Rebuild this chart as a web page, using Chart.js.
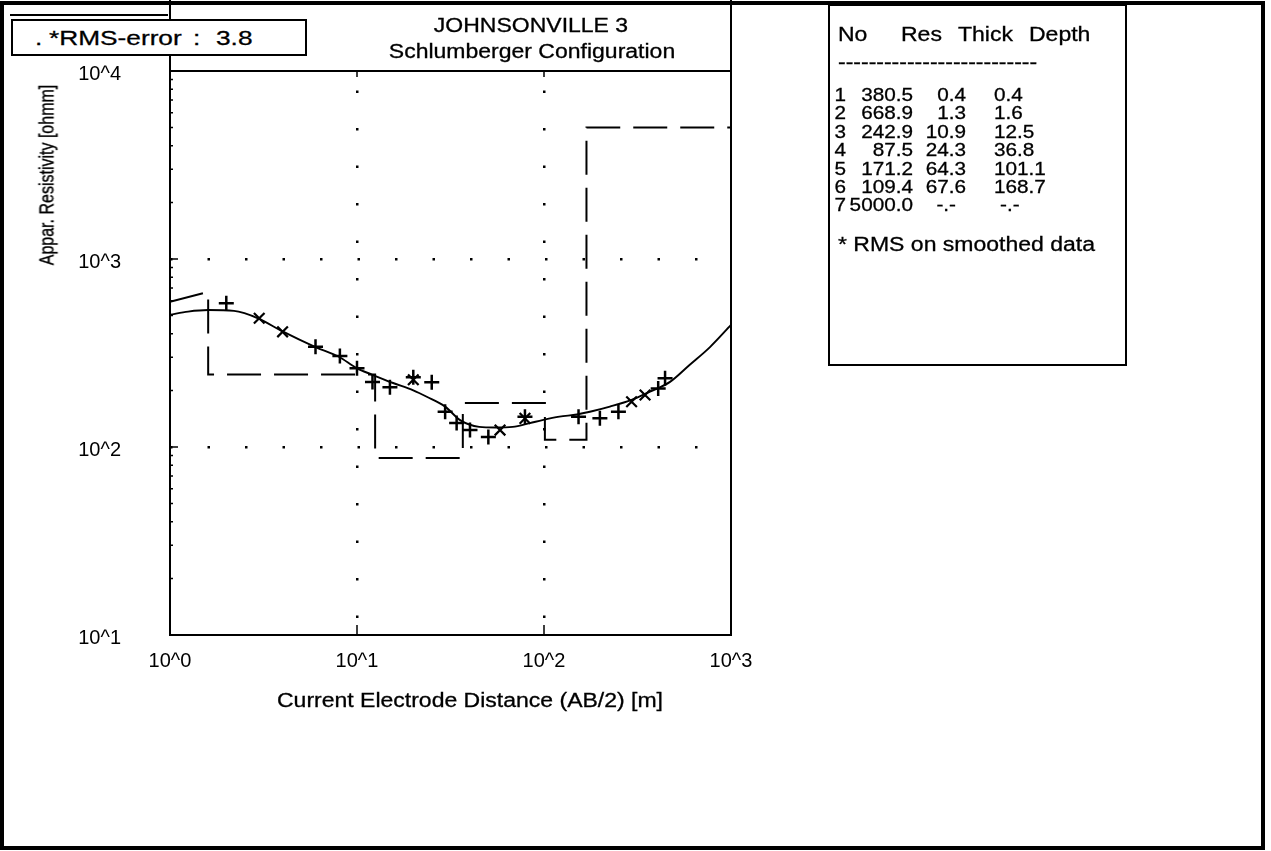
<!DOCTYPE html>
<html lang="en">
<head>
<meta charset="utf-8">
<title>JOHNSONVILLE 3</title>
<script src="https://cdn.jsdelivr.net/npm/chart.js@4.4.1/dist/chart.umd.min.js"></script>
<style>
  html, body { margin: 0; padding: 0; background: #fff; }
  body {
    position: relative; width: 1271px; height: 851px; overflow: hidden;
    font-family: "Liberation Sans", Arial, sans-serif; color: #000;
  }
  #chartBox { position: absolute; left: 0; top: 0; width: 1271px; height: 851px; }
  .box { position: absolute; box-sizing: border-box; border: 2px solid #000; }
  .txt { position: absolute; white-space: pre; line-height: 1; -webkit-text-stroke: 0.3px #000; }
</style>
</head>
<body>
<div id="chartBox"><canvas id="chart"></canvas></div>

<div class="box" style="left:0; top:1px; width:1265px; height:849px; border-width:4px;"></div>
<div class="box" style="left:169px; top:0; width:563px; height:72px; border-top:none; border-bottom:none;"></div>
<div class="box" style="left:10px; top:14px; width:158px; height:0; border-width:2px 0 0 0;"></div>
<div class="box" style="left:11px; top:19px; width:296px; height:37px; background:#fff;"></div>
<div class="box" style="left:828px; top:4px; width:299px; height:362px;"></div>
<div id="texts"></div>

<script>
// axis decades and their labels
const xDecades = [1, 10, 100, 1000];
const xTickLabels = ["10^0", "10^1", "10^2", "10^3"];
const yDecades = [10, 100, 1000, 10000];
const yTickLabels = ["10^1", "10^2", "10^3", "10^4"];

// layer model (table on the right)
const layerNo = [1, 2, 3, 4, 5, 6, 7];
const layerRes = [380.5, 668.9, 242.9, 87.5, 171.2, 109.4, 5000.0];
const layerThick = [0.4, 1.3, 10.9, 24.3, 64.3, 67.6, null];
const layerDepth = [0.4, 1.6, 12.5, 36.8, 101.1, 168.7, null];
const modelEntryRho = 593; // where the dashed model enters the plot at AB/2 = 1

// field readings (+)
const fieldAB = [2.0, 6.0, 8.1, 10, 12.1, 15, 20, 25.1, 29.6, 34.1, 40.2, 50.4, 79.1, 153, 199, 250, 408, 444];
const fieldRho = [581, 341, 305, 262, 222, 208, 235, 221, 154, 134, 123, 113, 145, 145, 142, 154, 205, 232];

// smoothed readings (x)
const smoothAB = [3.0, 4.0, 20, 58.2, 79.1, 294, 347];
const smoothRho = [484, 410, 228, 123, 142, 174, 189];

// calculated sounding curve
const curveAB = [1, 1.25, 1.6, 2.2, 2.5, 3, 4, 6, 8, 10, 12, 15.6, 20, 23.6, 29.6, 35.6, 45, 55, 68, 84, 98, 121, 150, 176, 225, 294, 369, 472, 600, 772, 1000];
const curveRho = [505, 525, 535, 530, 515, 480, 412, 340, 302, 262, 243, 219, 200, 185, 164, 139, 128, 127, 128, 134, 139, 145, 149, 154, 164, 178, 197, 222, 273, 340, 446];

const FONT = '"Liberation Sans", Arial, sans-serif';

const pairs = (xs, ys) => xs.map((x, i) => ({ x, y: ys[i] }));
const decadeIndex = (list, v) => list.findIndex(d => Math.abs(d - v) / d < 1e-6);

function modelPoints() {
  const pts = [{ x: xDecades[0], y: modelEntryRho }];
  for (let i = 1; i < layerDepth.length && layerDepth[i] != null; i++) {
    pts.push({ x: layerDepth[i], y: layerRes[i] }, { x: layerDepth[i], y: layerRes[i + 1] });
  }
  pts.push({ x: xDecades[xDecades.length - 1], y: layerRes[layerRes.length - 1] });
  return pts;
}

// dotted grid only on inner decades
function innerDecadeColor(list) {
  return ctx => {
    const v = ctx.tick ? ctx.tick.value : null;
    const i = v ? decadeIndex(list, v) : -1;
    return i > 0 && i < list.length - 1 ? "#000" : "rgba(0,0,0,0)";
  };
}

// plot frame plus the small inward tick marks
const plotFrame = {
  id: "plotFrame",
  afterDraw(chart) {
    const { ctx, chartArea: a, scales: { x, y } } = chart;
    ctx.save();
    ctx.strokeStyle = "#000";
    ctx.lineWidth = 2;
    ctx.strokeRect(a.left, a.top, a.right - a.left, a.bottom - a.top);
    ctx.lineWidth = 1.5;
    ctx.beginPath();
    x.ticks.forEach(t => {
      const i = decadeIndex(xDecades, t.value);
      if (i > 0 && i < xDecades.length - 1) {
        const px = x.getPixelForValue(t.value);
        ctx.moveTo(px, a.bottom); ctx.lineTo(px, a.bottom - 10);
        ctx.moveTo(px, a.top); ctx.lineTo(px, a.top + 6);
      }
    });
    y.ticks.forEach(t => {
      const m = t.value / Math.pow(10, Math.floor(Math.log10(t.value) + 1e-9));
      if (Math.abs(m - Math.round(m)) > 1e-6) return;
      const py = y.getPixelForValue(t.value);
      const len = decadeIndex(yDecades, t.value) >= 0 ? 8 : 3;
      ctx.moveTo(a.left, py); ctx.lineTo(a.left + len, py);
    });
    ctx.stroke();
    ctx.restore();
  }
};

new Chart(document.getElementById("chart"), {
  type: "scatter",
  data: {
    datasets: [
      {
        label: "Model",
        data: modelPoints(),
        showLine: true,
        borderColor: "#000",
        borderWidth: 2,
        borderDash: [34, 13],
        pointRadius: 0,
        tension: 0
      },
      {
        label: "Calculated",
        data: pairs(curveAB, curveRho),
        showLine: true,
        borderColor: "#000",
        borderWidth: 1.9,
        pointRadius: 0,
        cubicInterpolationMode: "monotone"
      },
      {
        label: "Field data",
        data: pairs(fieldAB, fieldRho),
        pointStyle: "cross",
        pointRadius: 7.5,
        borderColor: "#000",
        borderWidth: 2.5,
        showLine: false
      },
      {
        label: "Smoothed data",
        data: pairs(smoothAB, smoothRho),
        pointStyle: "crossRot",
        pointRadius: 7.5,
        borderColor: "#000",
        borderWidth: 2.2,
        showLine: false
      }
    ]
  },
  options: {
    responsive: true,
    maintainAspectRatio: false,
    animation: false,
    layout: { padding: { top: 71, right: 540, bottom: 156, left: 0 } },
    plugins: {
      legend: { display: false },
      tooltip: { enabled: false },
      title: { display: false }
    },
    scales: {
      x: {
        type: "logarithmic",
        min: xDecades[0],
        max: xDecades[xDecades.length - 1],
        afterFit: s => { s.height = 60; },
        grid: { drawTicks: false, lineWidth: 2.5, color: innerDecadeColor(xDecades) },
        border: { display: false, dash: [2.5, 35], dashOffset: 18 },
        ticks: {
          autoSkip: false,
          maxRotation: 0,
          padding: 14,
          color: "#000",
          font: { family: FONT, size: 20 },
          callback: v => {
            const i = decadeIndex(xDecades, v);
            return i >= 0 ? xTickLabels[i] : "";
          }
        }
      },
      y: {
        type: "logarithmic",
        min: yDecades[0],
        max: yDecades[yDecades.length - 1],
        afterFit: s => { s.width = 170; },
        grid: { drawTicks: false, lineWidth: 2.5, color: innerDecadeColor(yDecades) },
        border: { display: false, dash: [2.5, 35], dashOffset: 0 },
        ticks: {
          autoSkip: false,
          padding: 49,
          labelOffset: 3,
          color: "#000",
          font: { family: FONT, size: 20 },
          callback: v => {
            const i = decadeIndex(yDecades, v);
            return i >= 0 ? yTickLabels[i] : "";
          }
        }
      }
    }
  },
  plugins: [plotFrame]
});

// ---- texts around the plot ----
const texts = document.getElementById("texts");
function place(str, opts) {
  const d = document.createElement("div");
  d.className = "txt";
  d.textContent = str;
  const size = opts.size || 20;
  const stretch = opts.stretch || 1.15;
  d.style.fontSize = size + "px";
  d.style.top = (opts.cy - size * 0.49) + "px";
  let origin = "0 50%";
  if (opts.align === "right") {
    d.style.left = (opts.x - 200) + "px";
    d.style.width = "200px";
    d.style.textAlign = "right";
    origin = "100% 50%";
  } else if (opts.align === "center") {
    d.style.left = (opts.x - 250) + "px";
    d.style.width = "500px";
    d.style.textAlign = "center";
    origin = "50% 50%";
  } else {
    d.style.left = opts.x + "px";
  }
  d.style.transformOrigin = origin;
  d.style.transform = opts.rotate
    ? "scaleX(" + stretch + ") rotate(-90deg)"
    : "scaleX(" + stretch + ")";
  texts.appendChild(d);
  return d;
}

const box = { size: 21, stretch: 1.25 };
place(".", { x: 35, cy: 37, ...box });
place("*RMS-error", { x: 49, cy: 37, ...box });
place(":", { x: 193, cy: 37, ...box });
place("3.8", { x: 216, cy: 37, ...box });
place("JOHNSONVILLE 3", { x: 531, cy: 25, align: "center" });
place("Schlumberger Configuration", { x: 532, cy: 51, align: "center" });
place("Current Electrode Distance (AB/2) [m]", { x: 470, cy: 700, align: "center" });
place("Appar. Resistivity [ohmm]", { x: 47, cy: 175, align: "center", rotate: true, size: 16, stretch: 1.28 });

// layer table
place("No", { x: 838, cy: 34 });
place("Res", { x: 901, cy: 34 });
place("Thick", { x: 958, cy: 34 });
place("Depth", { x: 1029, cy: 34 });
place("--------------------------", { x: 838, cy: 62 });
const row = { size: 18.5, stretch: 1.12 };
layerNo.forEach((n, i) => {
  const cy = 95 + i * 18.4;
  place(String(n), { x: 846, cy, align: "right", ...row });
  place(layerRes[i].toFixed(1), { x: 913, cy, align: "right", ...row });
  if (layerThick[i] == null) {
    place("-.-", { x: 956, cy, align: "right", ...row });
    place("-.-", { x: 1000, cy, ...row });
  } else {
    place(layerThick[i].toFixed(1), { x: 966, cy, align: "right", ...row });
    place(layerDepth[i].toFixed(1), { x: 994, cy, ...row });
  }
});
place("* RMS on smoothed data", { x: 838, cy: 244 });
</script>
</body>
</html>
